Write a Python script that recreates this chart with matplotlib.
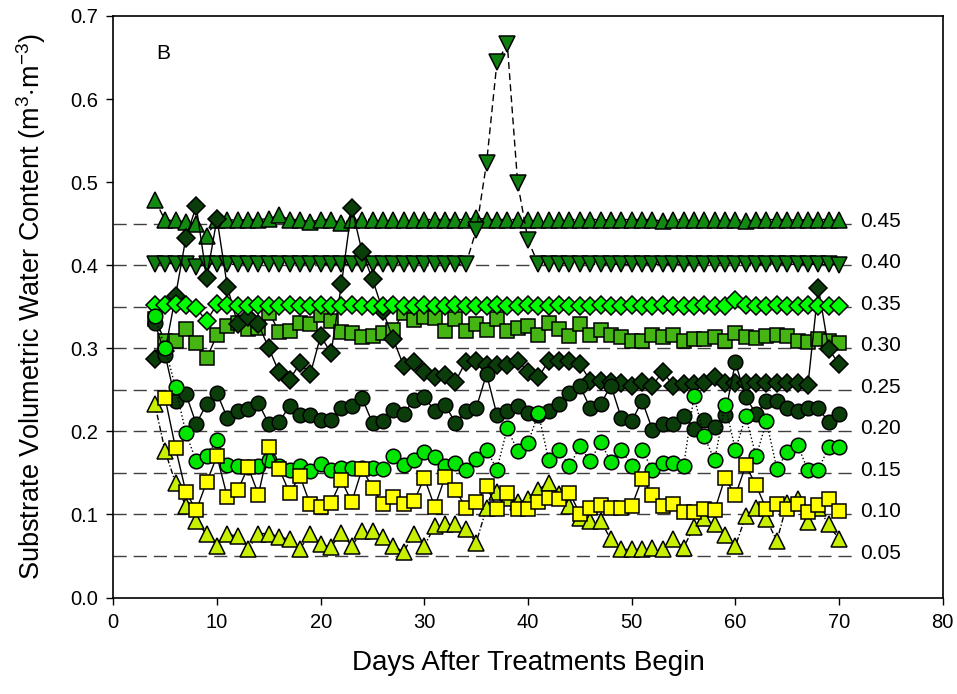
import numpy as np
import matplotlib
matplotlib.use("Agg")
import matplotlib.pyplot as plt

plt.rcParams['font.family'] = ['Liberation Sans', 'DejaVu Sans']
plt.rcParams['mathtext.fontset'] = 'custom'
plt.rcParams['mathtext.rm'] = 'Liberation Sans'
plt.rcParams['mathtext.it'] = 'Liberation Sans:italic'

days = list(range(4, 71))

targets = [0.45, 0.40, 0.35, 0.30, 0.25, 0.20, 0.15, 0.10, 0.05]
target_labels = ["0.45", "0.40", "0.35", "0.30", "0.25", "0.20", "0.15", "0.10", "0.05"]

s045 = [0.479, 0.454, 0.454, 0.452, 0.450, 0.435, 0.455,
        0.455, 0.454, 0.455, 0.455, 0.456, 0.460, 0.455, 0.455, 0.452, 0.455,
        0.455, 0.451, 0.455, 0.455, 0.455, 0.454, 0.455, 0.455, 0.454, 0.455,
        0.455, 0.455, 0.455, 0.455, 0.457, 0.455, 0.455, 0.455, 0.455, 0.455,
        0.455, 0.455, 0.455, 0.455, 0.455, 0.455, 0.455, 0.454, 0.455, 0.455,
        0.455, 0.455, 0.453, 0.455, 0.455, 0.455, 0.455, 0.454, 0.455, 0.455,
        0.453, 0.455, 0.455, 0.455, 0.455, 0.454, 0.455, 0.455, 0.455, 0.454]

s040 = [0.402, 0.402, 0.402, 0.401, 0.398, 0.401, 0.402,
        0.401, 0.401, 0.402, 0.401, 0.401, 0.401, 0.401, 0.401, 0.402, 0.401,
        0.401, 0.401, 0.401, 0.401, 0.401, 0.401, 0.401, 0.401, 0.401, 0.401,
        0.401, 0.401, 0.401, 0.401, 0.442, 0.523, 0.644, 0.666, 0.499, 0.430,
        0.401, 0.401, 0.401, 0.401, 0.401, 0.401, 0.401, 0.401, 0.401, 0.401,
        0.402, 0.401, 0.401, 0.401, 0.401, 0.402, 0.401, 0.401, 0.401, 0.401,
        0.401, 0.401, 0.401, 0.402, 0.401, 0.401, 0.401, 0.401, 0.401, 0.400]

s035 = [0.352, 0.352, 0.353, 0.352, 0.348, 0.333, 0.353,
        0.352, 0.351, 0.351, 0.352, 0.351, 0.351, 0.352, 0.351, 0.351, 0.352,
        0.351, 0.351, 0.352, 0.351, 0.351, 0.351, 0.352, 0.351, 0.351, 0.352,
        0.351, 0.351, 0.352, 0.351, 0.351, 0.351, 0.352, 0.351, 0.351, 0.352,
        0.351, 0.351, 0.352, 0.351, 0.351, 0.351, 0.352, 0.351, 0.351, 0.352,
        0.351, 0.351, 0.352, 0.351, 0.351, 0.351, 0.352, 0.351, 0.351, 0.358,
        0.352, 0.351, 0.351, 0.352, 0.351, 0.351, 0.352, 0.351, 0.351, 0.351]

s030 = [0.335, 0.309, 0.309, 0.323, 0.306, 0.288, 0.316,
        0.327, 0.330, 0.323, 0.325, 0.343, 0.320, 0.321, 0.330, 0.329, 0.340,
        0.333, 0.320, 0.318, 0.314, 0.315, 0.318, 0.322, 0.343, 0.334, 0.338,
        0.337, 0.321, 0.335, 0.321, 0.329, 0.322, 0.335, 0.321, 0.325, 0.327,
        0.316, 0.330, 0.323, 0.315, 0.329, 0.316, 0.322, 0.316, 0.313, 0.309,
        0.309, 0.316, 0.313, 0.316, 0.309, 0.311, 0.311, 0.314, 0.309, 0.318,
        0.314, 0.312, 0.315, 0.316, 0.315, 0.309, 0.308, 0.311, 0.309, 0.306]

s025 = [0.287, 0.297, 0.363, 0.433, 0.471, 0.385, 0.456,
        0.374, 0.329, 0.338, 0.329, 0.300, 0.271, 0.262, 0.282, 0.269, 0.315,
        0.294, 0.377, 0.469, 0.416, 0.383, 0.345, 0.311, 0.279, 0.283, 0.272,
        0.266, 0.268, 0.260, 0.284, 0.285, 0.280, 0.280, 0.280, 0.285, 0.272,
        0.265, 0.285, 0.285, 0.285, 0.281, 0.261, 0.261, 0.259, 0.258, 0.255,
        0.259, 0.255, 0.272, 0.255, 0.257, 0.257, 0.258, 0.265, 0.258, 0.258,
        0.258, 0.258, 0.258, 0.258, 0.258, 0.258, 0.256, 0.373, 0.299, 0.281]

s020 = [0.331, 0.292, 0.237, 0.245, 0.209, 0.233, 0.246,
        0.216, 0.225, 0.227, 0.234, 0.209, 0.211, 0.231, 0.220, 0.220, 0.214,
        0.214, 0.228, 0.231, 0.240, 0.210, 0.212, 0.226, 0.221, 0.238, 0.241,
        0.225, 0.232, 0.210, 0.224, 0.228, 0.269, 0.220, 0.224, 0.230, 0.222,
        0.220, 0.225, 0.233, 0.246, 0.255, 0.228, 0.233, 0.255, 0.216, 0.212,
        0.237, 0.202, 0.209, 0.209, 0.218, 0.203, 0.214, 0.205, 0.220, 0.283,
        0.241, 0.221, 0.236, 0.236, 0.228, 0.224, 0.228, 0.228, 0.211, 0.221]

s015 = [0.339, 0.300, 0.253, 0.198, 0.164, 0.170, 0.190,
        0.159, 0.158, 0.157, 0.158, 0.166, 0.158, 0.154, 0.158, 0.152, 0.161,
        0.153, 0.156, 0.156, 0.156, 0.156, 0.155, 0.170, 0.159, 0.165, 0.175,
        0.169, 0.158, 0.162, 0.154, 0.167, 0.178, 0.154, 0.204, 0.176, 0.186,
        0.222, 0.165, 0.177, 0.158, 0.182, 0.164, 0.187, 0.163, 0.178, 0.158,
        0.177, 0.154, 0.162, 0.162, 0.158, 0.242, 0.194, 0.165, 0.232, 0.178,
        0.218, 0.170, 0.212, 0.155, 0.175, 0.184, 0.153, 0.154, 0.181, 0.181]

s010 = [np.nan, 0.240, 0.180, 0.127, 0.105, 0.139, 0.170,
        0.121, 0.129, 0.157, 0.124, 0.181, 0.155, 0.126, 0.146, 0.112, 0.109,
        0.114, 0.141, 0.115, 0.155, 0.132, 0.112, 0.121, 0.112, 0.116, 0.144,
        0.109, 0.145, 0.130, 0.108, 0.115, 0.134, 0.107, 0.126, 0.106, 0.107,
        0.115, 0.120, 0.119, 0.126, 0.101, 0.108, 0.111, 0.108, 0.108, 0.110,
        0.143, 0.123, 0.110, 0.112, 0.103, 0.103, 0.106, 0.105, 0.144, 0.123,
        0.159, 0.135, 0.106, 0.112, 0.106, 0.112, 0.103, 0.111, 0.118, 0.104]

s005 = [0.233, 0.176, 0.138, 0.110, 0.092, 0.076, 0.062,
        0.076, 0.074, 0.058, 0.077, 0.077, 0.073, 0.070, 0.059, 0.076, 0.064,
        0.061, 0.078, 0.062, 0.080, 0.080, 0.073, 0.062, 0.055, 0.077, 0.062,
        0.086, 0.088, 0.088, 0.082, 0.066, 0.108, 0.127, 0.120, 0.115, 0.118,
        0.130, 0.138, 0.125, 0.110, 0.096, 0.092, 0.092, 0.070, 0.058, 0.058,
        0.058, 0.060, 0.058, 0.070, 0.060, 0.085, 0.096, 0.088, 0.075, 0.062,
        0.098, 0.108, 0.094, 0.068, 0.114, 0.118, 0.091, 0.108, 0.088, 0.070]

# (values, marker, face color, line style, marker size, zorder)
series = [
    (s045, '^', '#128a12', (0, (5, 3)), 11.0, 3),
    (s040, 'v', '#0f800f', (0, (5, 3)), 11.0, 3),
    (s030, 's', '#44b512', '-', 9.8, 4),
    (s025, 'D', '#0b3d0b', '-', 9.5, 5),
    (s035, 'D', '#00ff00', '-', 9.5, 6),
    (s020, 'o', '#0b3d0b', '-', 10.5, 7),
    (s015, 'o', '#00e600', ':', 10.5, 8),
    (s005, '^', '#c6f000', (0, (4, 1.5, 1, 1.5)), 11.0, 9),
    (s010, 's', '#ffff00', '-', 9.8, 10),
]

fig = plt.figure(figsize=(9.57, 6.94), dpi=100)
ax = fig.add_axes([0.1184, 0.139, 0.8667, 0.838])

ax.hlines(targets, 0, 71.2, colors='#404040', linewidth=1.0,
          linestyles=[(0, (9.5, 5))], zorder=1)
for t, lab in zip(targets, target_labels):
    ax.text(72.0, t + 0.003, lab, fontsize=15, ha='left', va='center', color='black')

for vals, mk, fc, ls, ms, z in series:
    ax.plot(days, vals, linestyle=ls, color='black', linewidth=1.0,
            marker=mk, markersize=ms, markerfacecolor=fc,
            markeredgecolor='black', markeredgewidth=1.1, zorder=z)

ax.set_xlim(0, 80)
ax.set_ylim(0, 0.7)
ax.set_xticks(range(0, 81, 10))
ax.set_yticks([0.0, 0.1, 0.2, 0.3, 0.4, 0.5, 0.6, 0.7])
ax.set_yticklabels(["0.0", "0.1", "0.2", "0.3", "0.4", "0.5", "0.6", "0.7"])
ax.tick_params(direction='out', length=5, width=1, labelsize=14.5, pad=6,
               top=False, right=False)
for sp in ax.spines.values():
    sp.set_linewidth(1.2)

ax.text(4.8, 0.655, "B", fontsize=15, ha='center', va='center')

ax.set_xlabel("Days After Treatments Begin", fontsize=20, labelpad=13)
ax.set_ylabel(r"Substrate Volumetric Water Content (m$^{3}$$\cdot$m$^{-3}$)",
              fontsize=19.5, labelpad=16)

fig.savefig("out.png", dpi=100)
